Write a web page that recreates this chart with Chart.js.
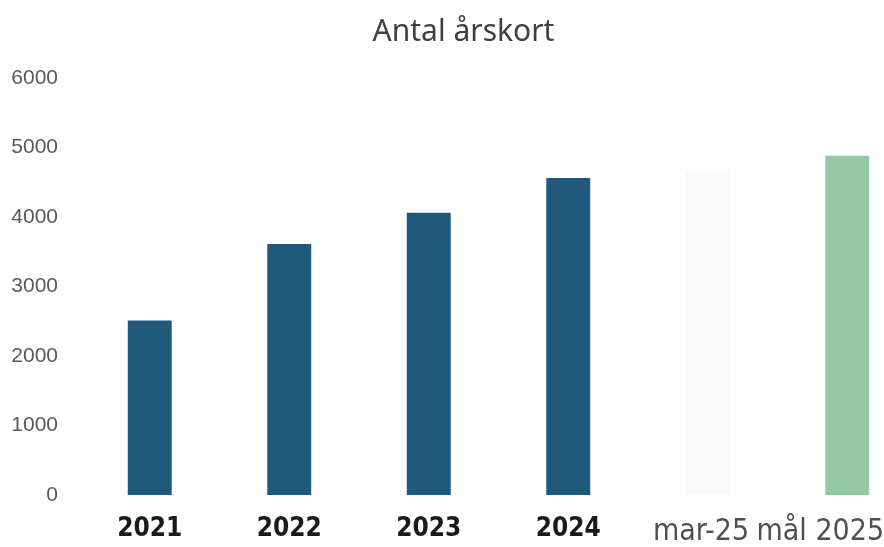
<!DOCTYPE html>
<html lang="sv">
<head>
    <meta charset="UTF-8">
    <title>Antal årskort</title>
    <style>
        html, body { margin: 0; padding: 0; background: #fff; overflow: hidden; }
        #wrap { width: 940px; height: 547px; }
    </style>
</head>
<body>
    <div id="wrap"><canvas id="barChart"></canvas></div>
    <script src="https://cdn.jsdelivr.net/npm/chart.js@4/dist/chart.umd.min.js"></script>
    <script>
        const categories = ["2021", "2022", "2023", "2024", "mar-25", "mål 2025"];
        const cards = [2510, 3610, 4060, 4560, 4660, 4880];
        const barColors = ["#1f5a7d", "#1f5a7d", "#1f5a7d", "#1f5a7d", "rgba(235,235,235,0.25)", "#93c8a0"];
        const yTicks = [0, 1000, 2000, 3000, 4000, 5000, 6000];

        // the last two labels sit a little left of their bars in the original (trailing en spaces)
        const labelShift = ["", "", "", "", "\u2002", "\u2002\u2002\u2002\u2002"];

        const ctx = document.getElementById("barChart").getContext("2d");

        new Chart(ctx, {
            type: "bar",
            data: {
                labels: categories,
                datasets: [{
                    data: cards,
                    backgroundColor: barColors,
                    borderWidth: 0,
                    barPercentage: 0.315,
                    categoryPercentage: 1
                }]
            },
            options: {
                responsive: true,
                maintainAspectRatio: false,
                animation: false,
                layout: { padding: { left: 10, right: 23, top: 0, bottom: 0 } },
                plugins: {
                    legend: { display: false },
                    tooltip: { enabled: false },
                    title: {
                        display: true,
                        text: "Antal årskort",
                        color: "#404040",
                        font: { family: "'Noto Sans', sans-serif", size: 30, weight: "normal" },
                        padding: { top: 14, bottom: 28 }
                    }
                },
                scales: {
                    x: {
                        grid: { display: false, drawTicks: false },
                        border: { display: false },
                        afterFit: axis => {
                            axis.height = 52;
                            axis.paddingLeft = 0;
                            axis.paddingRight = 0;
                        },
                        ticks: {
                            padding: 19,
                            autoSkip: false,
                            maxRotation: 0,
                            minRotation: 0,
                            callback: (v, i) => categories[i] + labelShift[i],
                            color: ctx => ctx.index < 4 ? "#1a1a1a" : "#505050",
                            font: ctx => ({
                                family: "'Liberation Sans Narrow', 'DejaVu Sans Condensed', sans-serif",
                                size: ctx.index < 4 ? 26 : 30,
                                weight: ctx.index < 4 ? "bold" : "normal"
                            })
                        }
                    },
                    y: {
                        min: 0,
                        max: 6000,
                        grid: { display: false, drawTicks: false },
                        border: { display: false },
                        afterFit: axis => { axis.width = 70; },
                        afterBuildTicks: axis => {
                            axis.ticks = yTicks.map(v => ({ value: v }));
                        },
                        ticks: {
                            padding: 22,
                            color: "#595959",
                            callback: v => String(v),
                            font: { family: "'Liberation Sans', Arial, sans-serif", size: 21 }
                        }
                    }
                }
            }
        });
    </script>
</body>
</html>
